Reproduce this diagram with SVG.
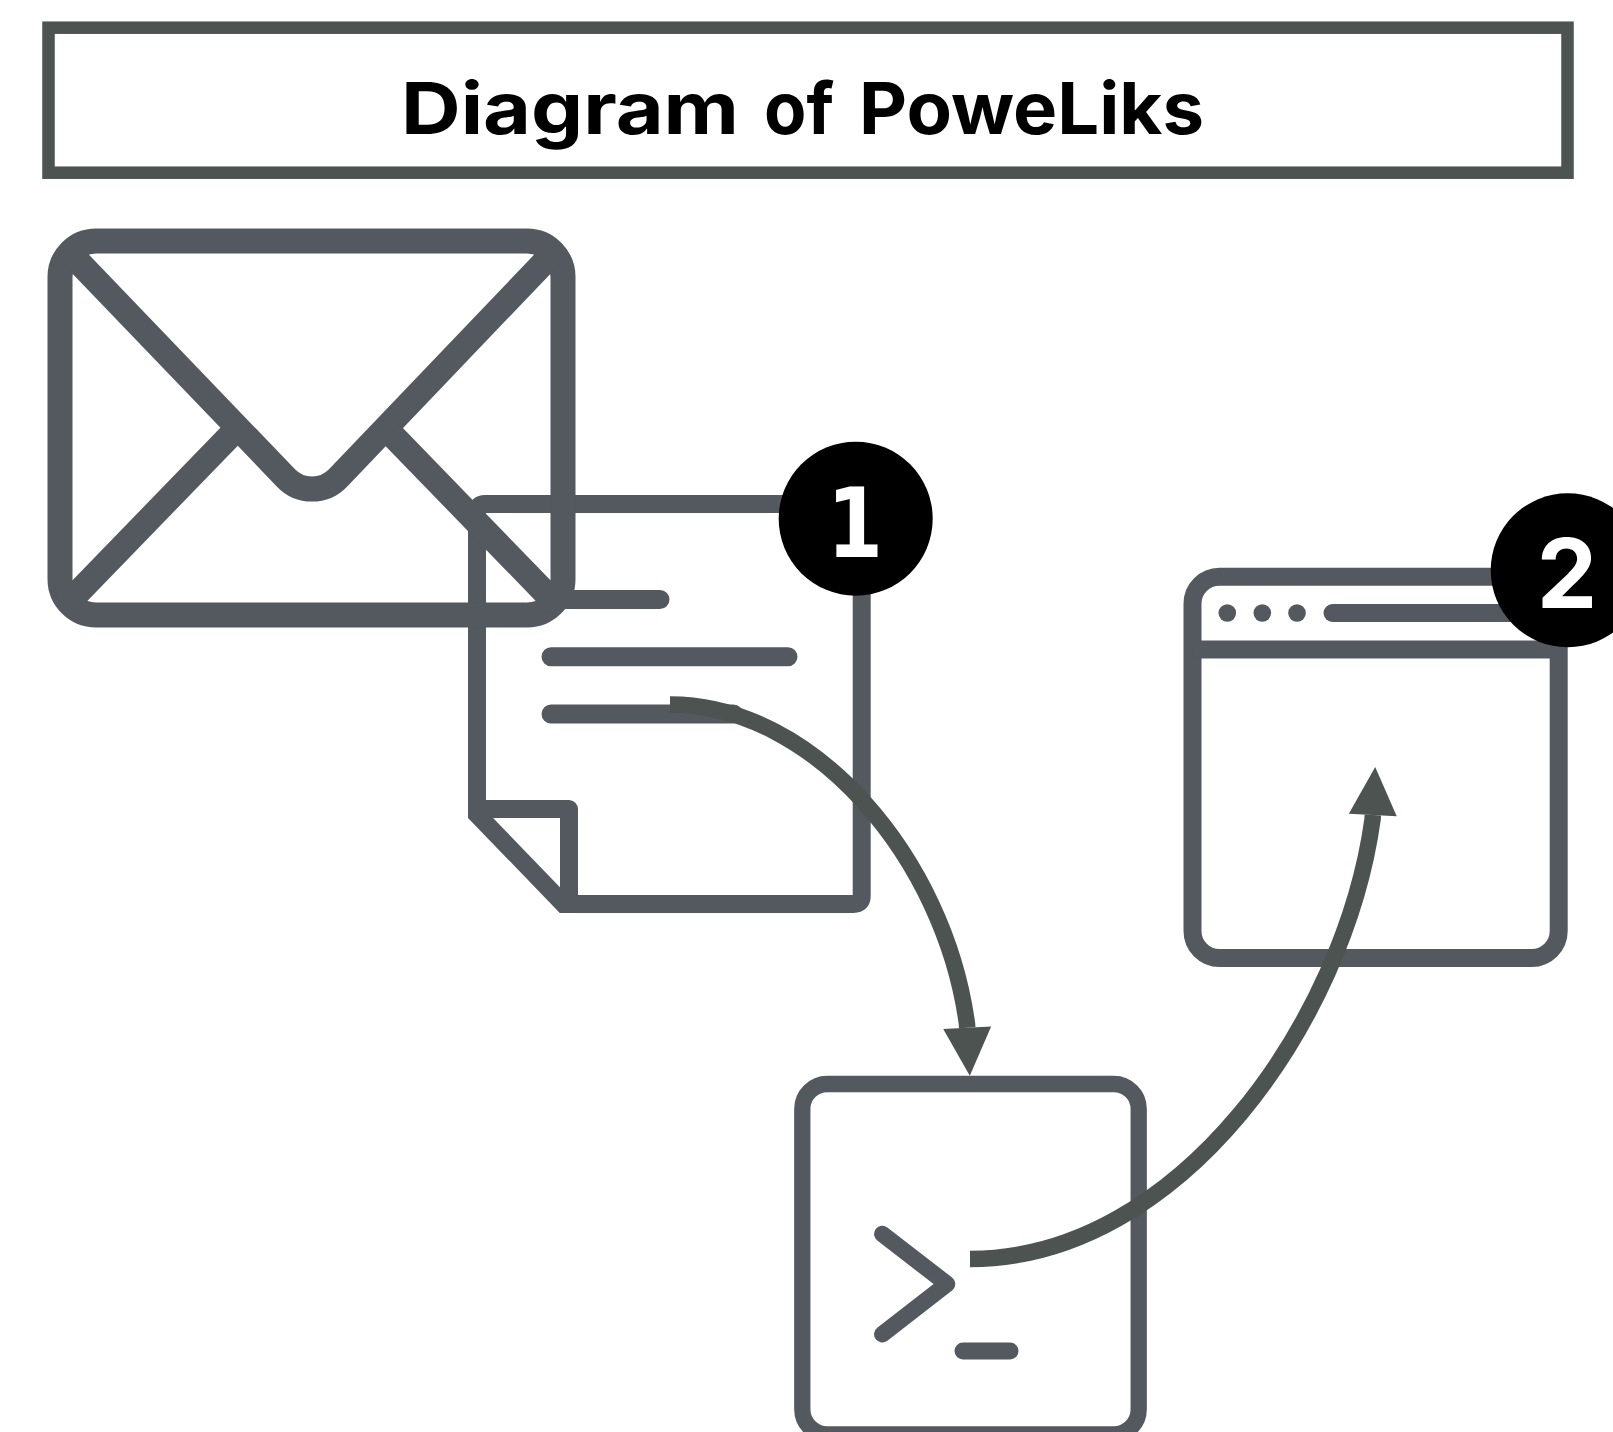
<svg xmlns="http://www.w3.org/2000/svg" width="1613" height="1432" viewBox="0 0 1613 1432">
<style>
.i{fill:none;stroke:#54595f;stroke-width:18;stroke-linejoin:miter;stroke-miterlimit:6}
.r{stroke-linecap:round;stroke-linejoin:round}
.e{stroke-width:25}
.d{fill:#54595f}
.c{fill:none;stroke:#4d5351;stroke-width:16.5}
.b{fill:#000}
.n{font-weight:700;font-size:96px;fill:#fff;text-anchor:middle}
.t{font-family:Inter,"Liberation Sans",sans-serif;font-weight:700;font-size:72px;fill:#000}
</style>
<defs>
<marker id="arrow" markerUnits="userSpaceOnUse" markerWidth="48" markerHeight="48" refX="0" refY="24" orient="auto" overflow="visible"><path d="M0,0 L48,24 L0,48 Z" fill="#4d5351"/></marker>
</defs>
<rect width="1613" height="1432" fill="#fff"/>
<g id="title">
<rect x="48.5" y="27.7" width="1519" height="145" fill="none" stroke="#4d5351" stroke-width="12.5"/>
<text class="t" y="134.3"><tspan x="401" textLength="338" lengthAdjust="spacingAndGlyphs">Diagram</tspan> <tspan x="764" textLength="70" lengthAdjust="spacingAndGlyphs">of</tspan> <tspan x="859" textLength="345" lengthAdjust="spacingAndGlyphs">PoweLiks</tspan></text>
</g>
<g id="node-document">
<path class="i" d="M477,512 Q477,504 485,504 H853.7 Q861.7,504 861.7,512 V896 Q861.7,904 853.7,904 H563.6 L477,814.3 Z"/>
<path class="i" style="stroke-linejoin:round" d="M477,809 H569 V904"/>
<path class="i r" style="stroke-width:19" d="M551,599.5 H660 M551,656.7 H788 M551,714 H733.5"/>
</g>
<g id="node-email">
<rect class="i e" x="60" y="241" width="503" height="374" rx="36" ry="36"/>
<path class="i e" d="M70,253 L286,478 A36,36 0 0 0 338,478 L553,253"/>
<path class="i e" d="M65,606 L232,433.7 M391,433.7 L558,606"/>
</g>
<g id="node-browser">
<rect class="i" x="1192.5" y="576.8" width="366.2" height="381.2" rx="27" ry="27"/>
<path class="i" d="M1192.5,649.5 H1558.7"/>
<circle class="d" cx="1227.3" cy="613" r="8.8"/>
<circle class="d" cx="1262.3" cy="613" r="8.8"/>
<circle class="d" cx="1297" cy="613" r="8.8"/>
<path class="i r" d="M1332.5,613 H1530"/>
</g>
<g id="node-terminal">
<rect class="i" style="stroke-width:16.3" x="802.3" y="1084" width="336.4" height="350.3" rx="25" ry="25"/>
<path class="i r" style="stroke-width:16.5" d="M882.3,1234 L947,1284 L882.3,1334.3"/>
<path class="i r" style="stroke-width:17" d="M963,1351 H1010"/>
</g>
<g id="connectors">
<path class="c" marker-end="url(#arrow)" d="M670,704.5 C815,704.5 945,860 967,1024 L967.2,1027.7"/>
<path class="c" marker-end="url(#arrow)" d="M970,1259 C1180,1259 1345,1020 1372.6,819 L1372.8,815"/>
</g>
<g id="badge-1">
<circle class="b" cx="855.7" cy="518.7" r="77"/>
<text class="n" style="font-family:'DejaVu Sans',sans-serif" x="855" y="556.7" textLength="56" lengthAdjust="spacingAndGlyphs">1</text>
</g>
<g id="badge-2">
<circle class="b" cx="1567.7" cy="570.3" r="77"/>
<text class="n" style="font-family:Inter,sans-serif" x="1567" y="608">2</text>
</g>
</svg>
